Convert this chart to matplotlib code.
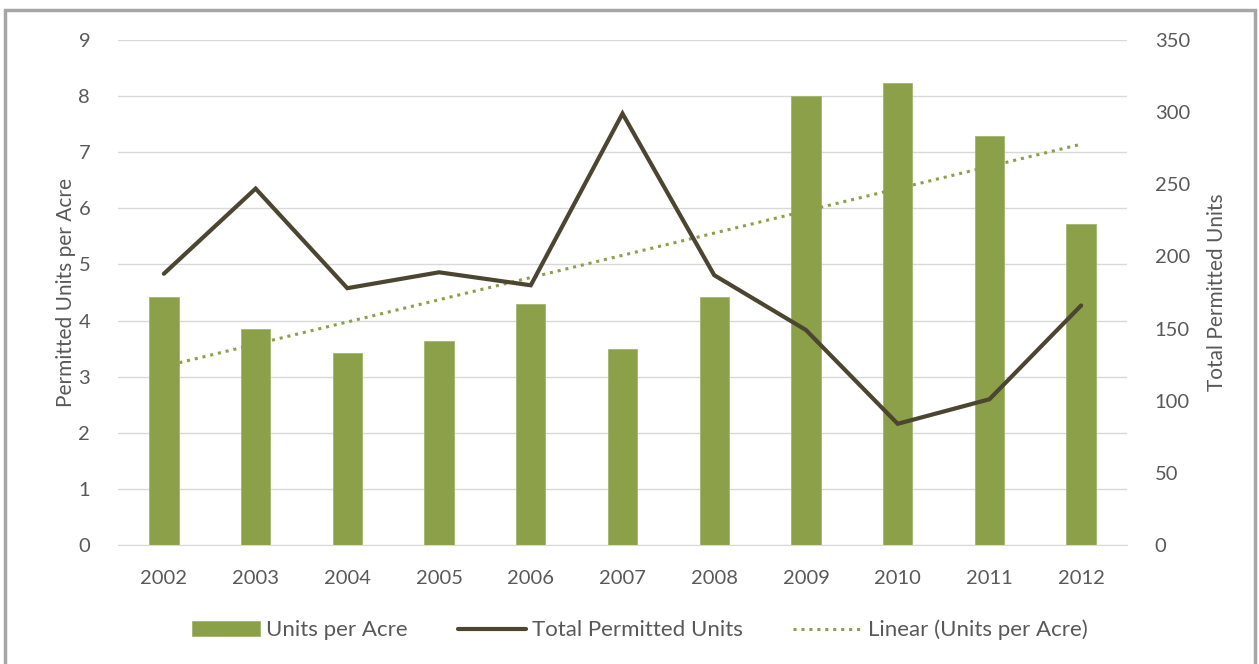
import numpy as np
import matplotlib.pyplot as plt
from matplotlib.patches import Rectangle

years = ['2002', '2003', '2004', '2005', '2006', '2007', '2008', '2009', '2010', '2011', '2012']
units_per_acre = [4.42, 3.85, 3.42, 3.64, 4.30, 3.49, 4.42, 8.00, 8.24, 7.29, 5.72]
total_units = [188, 247, 178, 189, 180, 299, 187, 149, 84, 101, 166]

green = '#8BA048'
dark = '#4B4531'
grey_txt = '#595959'

plt.rcParams['font.family'] = ['Lato', 'DejaVu Sans']

fig = plt.figure(figsize=(12.59, 6.64), dpi=100)
ax = fig.add_axes([118 / 1259, 1 - 545 / 664, (1127 - 118) / 1259, (545 - 40) / 664])
ax2 = ax.twinx()

x = np.arange(len(years))
b = ax.bar(x, units_per_acre, width=0.32, color=green, edgecolor='#a3b56e', linewidth=0.6,
           label='Units per Acre', zorder=2)

# linear trend of bars
k, c = np.polyfit(x, units_per_acre, 1)
tr, = ax.plot(x, k * x + c, linestyle=(0, (1, 1.6)), color='#8BA048', linewidth=2.2,
              label='Linear (Units per Acre)', zorder=3)

ln, = ax2.plot(x, total_units, color=dark, linewidth=3, label='Total Permitted Units',
               solid_capstyle='round', solid_joinstyle='miter', zorder=4)

ax.set_xlim(-0.5, len(years) - 0.5)
ax.set_ylim(0, 9)
ax.set_yticks(range(0, 10))
ax2.set_ylim(0, 350)
ax2.set_yticks(range(0, 351, 50))
ax.set_xticks(x)
ax.set_xticklabels(years)

ax.grid(axis='y', color='#d9d9d9', linewidth=1, zorder=0)
ax.set_axisbelow(True)
for a in (ax, ax2):
    for s in a.spines.values():
        s.set_visible(False)
    a.tick_params(length=0, labelsize=14.5, colors=grey_txt)
ax.spines['bottom'].set_visible(True)
ax.spines['bottom'].set_color('#d9d9d9')
ax.tick_params(axis='y', pad=20)
ax.tick_params(axis='x', pad=18)
ax2.tick_params(axis='y', pad=20)

ax.set_ylabel('Permitted Units per Acre', fontsize=15, color=grey_txt, labelpad=2)
ax2.set_ylabel('Total Permitted Units', fontsize=15, color=grey_txt, labelpad=12)

ax2.set_zorder(ax.get_zorder() + 1)
ax2.patch.set_visible(False)

fig.legend([b, ln, tr], ['Units per Acre', 'Total Permitted Units', 'Linear (Units per Acre)'],
           loc='center', bbox_to_anchor=(0.508, 1 - 630 / 664), ncol=3, frameon=False,
           fontsize=16, labelcolor=grey_txt, handlelength=3.05, columnspacing=2.25,
           handletextpad=0.3)

# outer frame of the chart
fig.add_artist(Rectangle((5 / 1259, -0.05), 1250 / 1259, 1.05 - 10 / 664, transform=fig.transFigure,
                         fill=False, edgecolor='#a6a6a6', linewidth=2.5))

fig.savefig('out.png', dpi=100)
